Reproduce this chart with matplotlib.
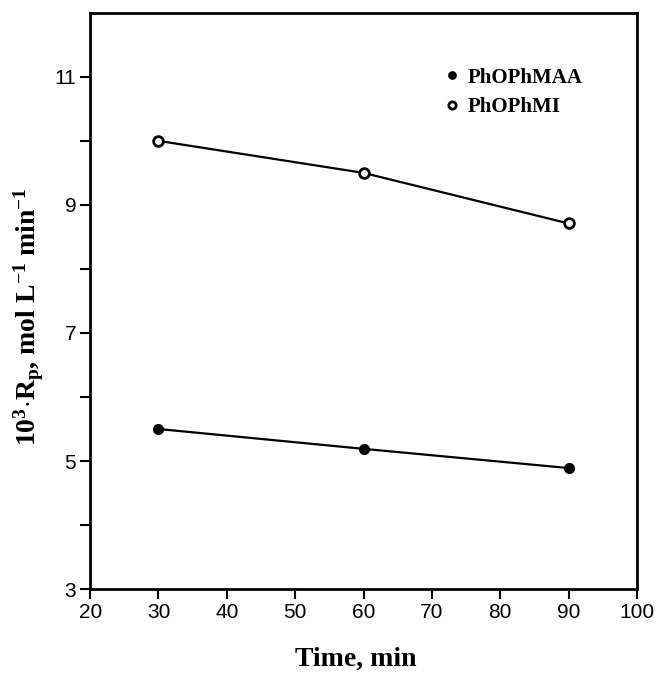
import numpy as np
import matplotlib.pyplot as plt

# reaction time, min
time = [30, 60, 90]
# 10^3 * Rp, mol L-1 min-1
rp_maa = [5.5, 5.19, 4.89]
rp_mi = [10.0, 9.5, 8.71]

plt.rcParams['mathtext.fontset'] = 'custom'
plt.rcParams['mathtext.rm'] = 'Liberation Serif:bold'
plt.rcParams['mathtext.it'] = 'Liberation Serif:bold'
plt.rcParams['mathtext.bf'] = 'Liberation Serif:bold'

fig = plt.figure(figsize=(6.58, 6.74), dpi=100)
ax = fig.add_axes([0.137, 0.126, 0.831, 0.855])

# connecting lines
ax.plot(time, rp_mi, '-', color='black', lw=1.6, zorder=2)
ax.plot(time, rp_maa, '-', color='black', lw=1.6, zorder=2)

# markers (legend entries)
ax.plot(time, rp_maa, 'o', color='black', ms=7, label='PhOPhMAA', zorder=3)
ax.plot(time, rp_mi, 'o', mfc='white', mec='black', mew=2, ms=7,
        label='PhOPhMI', zorder=3)

ax.set_xlim(20, 100)
ax.set_ylim(3, 12)
ax.set_xticks(np.arange(20, 101, 10))
ax.set_yticks([3, 5, 7, 9, 11])
ax.set_yticks([4, 6, 8, 10], minor=True)

for s in ax.spines.values():
    s.set_linewidth(2)
ax.tick_params(axis='both', which='major', direction='out', length=7, width=1.5,
               labelsize=15, pad=3)
ax.tick_params(axis='y', which='minor', direction='out', length=7, width=1.5)
for lab in ax.get_xticklabels() + ax.get_yticklabels():
    lab.set_family('Liberation Sans')

ax.set_xlabel('Time, min', family='Liberation Serif', fontweight='bold',
              fontsize=20)
ax.xaxis.set_label_coords(0.486, -0.10)
ax.set_ylabel(r'10$^{3}$$\cdot$R$_{p}$, mol L$^{-1}$ min$^{-1}$',
              family='Liberation Serif', fontweight='bold', fontsize=20)
ax.yaxis.set_label_coords(-0.08, 0.472)

leg = ax.legend(loc='upper left', bbox_to_anchor=(0.651, 0.905), frameon=False,
                borderaxespad=0, borderpad=0,
                handlelength=0.6, handletextpad=0.45, markerscale=0.75,
                labelspacing=0.45, prop={'family': 'Liberation Serif',
                                         'weight': 'bold', 'size': 15})

fig.savefig('out.png', dpi=100)
